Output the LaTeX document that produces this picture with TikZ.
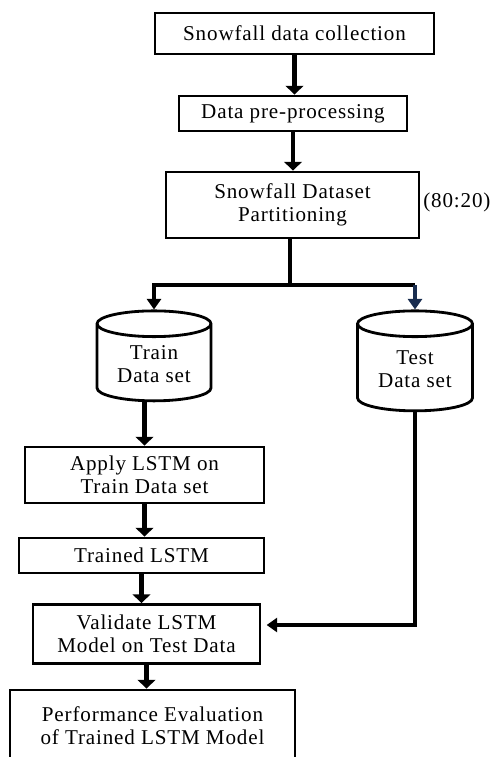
\documentclass[tikz,border=0pt]{standalone}
\usepackage{fontspec}
\setmainfont{Liberation Serif}[LetterSpace=4]
\usetikzlibrary{shapes.geometric,arrows.meta}
\begin{document}
\begin{tikzpicture}[x=0.02cm, y=-0.02cm,
    every node/.style={font=\fontsize{12}{13}\selectfont, align=center, inner sep=0pt},
    proc/.style={draw, line width=1.6pt, rectangle},
    store/.style={draw, line width=1.6pt, cylinder, shape border rotate=90, aspect=0.35},
    flow/.style={line width=2.8pt, -{Triangle[width=10pt,length=5pt]}},
    thin flow/.style={line width=2.2pt, -{Triangle[width=8pt,length=6pt]}}]
    \clip (0, 0) rectangle (494, 757);
    \node[proc, minimum width=5.58cm, minimum height=0.82cm] (collect) at (294.5, 33.5) {Snowfall data collection};
    \node[proc, minimum width=4.56cm, minimum height=0.7cm] (prep) at (293, 113.5) {Data pre-processing};
    \node[proc, minimum width=5.06cm, minimum height=1.32cm] (part) at (292.5, 205) {Snowfall Dataset\\Partitioning};
    \node[anchor=west] (ratio) at (423, 202) {(80:20)};
    \node[store, minimum width=2.28cm, minimum height=1.8cm] (train) at (154, 363) {\\[-4pt]Train\\Data set};
    \node[store, minimum width=2.3cm, minimum height=2.0cm] (test) at (415, 368) {\\[-4pt]Test\\Data set};
    \node[proc, minimum width=4.78cm, minimum height=1.12cm] (apply) at (144.5, 475) {Apply LSTM on\\Train Data set};
    \node[proc, minimum width=4.9cm, minimum height=0.7cm] (trained) at (141.5, 555.5) {Trained LSTM};
    \node[proc, minimum width=4.54cm, minimum height=1.18cm] (valid) at (146.5, 634) {Validate LSTM\\Model on Test Data};
    \node[proc, minimum width=5.7cm, minimum height=1.44cm] (perf) at (152.5, 726) {Performance Evaluation\\of Trained LSTM Model};
    % main flow
    \draw[flow] (collect) -- (collect |- prep.north);
    \draw[flow] (prep) -- (prep |- part.north);
    \coordinate (split) at (290, 285);
    \draw[line width=2.2pt] (part.south -| split) -- (split);
    \draw[thin flow] (split) -| (train.north);
    \draw[line width=2.2pt] (split) -- (split -| test.north);
    \draw[thin flow, color={rgb,255:red,25;green,45;blue,80}] (split -| test.north) -- (test.north);
    \draw[flow] (train.south -| apply) -- (apply);
    \draw[flow] (apply) -- (apply |- trained.north);
    \draw[flow] (trained) -- (trained |- valid.north);
    \draw[flow] (valid) -- (valid |- perf.north);
    \draw[thin flow, shorten >=3pt] (test.south) |- ([yshift=0.18cm]valid.east);
\end{tikzpicture}
\end{document}
